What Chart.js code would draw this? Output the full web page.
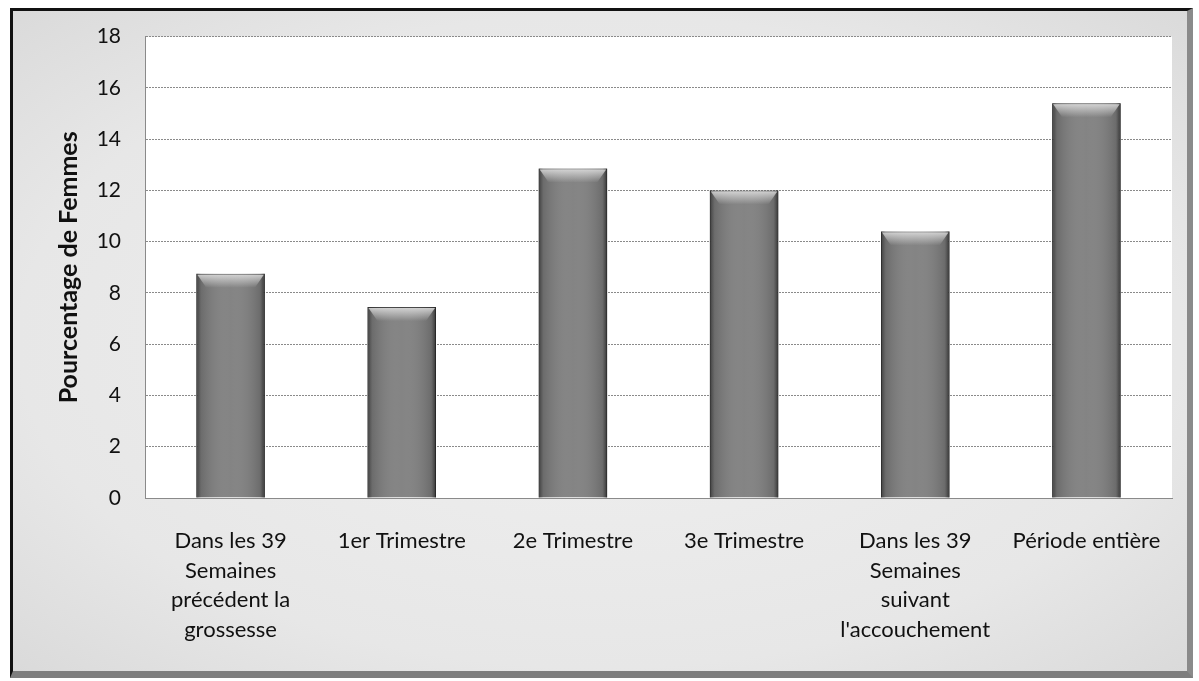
<!DOCTYPE html>
<html>
<head>
<meta charset="utf-8">
<script src="https://cdn.jsdelivr.net/npm/chart.js@4.4.1/dist/chart.umd.min.js"></script>
<style>
  html, body { margin: 0; padding: 0; background: #fff; }
  #frame {
    position: absolute; left: 10px; top: 8px; width: 1174px; height: 660px;
    border-top: 3px solid #111; border-left: 3px solid #111;
    border-right: 6px solid #8a8a8a; border-bottom: 7px solid #7e7e7e;
    background: radial-gradient(ellipse at center, #f0f0f0 0%, #e7e7e7 70%, #dadada 100%);
  }
  #wrap { position: absolute; left: 0; top: 0; width: 1199px; height: 681px; }
</style>
</head>
<body>
<div id="frame"></div>
<div id="wrap"><canvas id="myChart" width="1199" height="681"></canvas></div>
<script>
// values (pourcentage de femmes)

const periods = [
  ['Dans les 39', 'Semaines', 'précédent la', 'grossesse'],
  '1er Trimestre',
  '2e Trimestre',
  '3e Trimestre',
  ['Dans les 39', 'Semaines', 'suivant', "l'accouchement"],
  'Période entière'
];
const pourcentages = [8.75, 7.45, 12.85, 12.0, 10.4, 15.4];
const yTicks = [0, 2, 4, 6, 8, 10, 12, 14, 16, 18];

const font = "Lato, 'Open Sans', sans-serif";

// white plot area like the original
const plotBg = {
  id: 'plotBg',
  beforeDraw(chart) {
    const a = chart.chartArea, c = chart.ctx;
    c.save();
    c.fillStyle = '#ffffff';
    c.fillRect(a.left, a.top, a.right - a.left, a.bottom - a.top);
    c.restore();
  }
};

// shading on top of each bar (cylinder look)
const barShade = {
  id: 'barShade',
  afterDatasetsDraw(chart) {
    const c = chart.ctx;
    chart.getDatasetMeta(0).data.forEach(bar => {
      const l = bar.x - bar.width / 2, w = bar.width, t = bar.y, h = bar.base - bar.y;
      let g = c.createLinearGradient(l, 0, l + w, 0);
      g.addColorStop(0, 'rgba(40,40,40,0.75)');
      g.addColorStop(0.07, 'rgba(60,60,60,0.25)');
      g.addColorStop(0.5, 'rgba(255,255,255,0.06)');
      g.addColorStop(0.93, 'rgba(60,60,60,0.25)');
      g.addColorStop(1, 'rgba(30,30,30,0.8)');
      c.save();
      c.fillStyle = g;
      c.fillRect(l, t, w, h);
      let v = c.createLinearGradient(0, t, 0, t + 14);
      v.addColorStop(0, 'rgba(230,230,230,0.85)');
      v.addColorStop(1, 'rgba(230,230,230,0)');
      c.fillStyle = v;
      c.beginPath();
      c.moveTo(l + 1, t + 1);
      c.lineTo(l + w - 1, t + 1);
      c.lineTo(l + w - 10, t + 14);
      c.lineTo(l + 10, t + 14);
      c.closePath();
      c.fill();
      c.restore();
    });
  }
};

const ctx = document.getElementById('myChart');

new Chart(ctx, {
  type: 'bar',
  data: {
    labels: periods,
    datasets: [{
      label: 'Pourcentage de Femmes',
      data: pourcentages,
      backgroundColor: '#7c7c7c',
      borderColor: '#3a3a3a',
      borderWidth: 1,
      categoryPercentage: 1,
      barPercentage: 0.4
    }]
  },
  options: {
    responsive: false,
    animation: false,
    layout: { padding: { left: 50, right: 27, top: 30, bottom: 30 } },
    plugins: { legend: { display: false }, tooltip: { enabled: false } },
    scales: {
      x: {
        grid: { display: false, drawTicks: false },
        border: { color: '#8a8a8a', dash: [2, 1] },
        ticks: { color: '#111', padding: 28, maxRotation: 0, autoSkip: false,
                 font: { family: font, size: 22, lineHeight: 1.35 } },
        afterFit(scale) { scale.height = 153; }
      },
      y: {
        min: 0, max: 18,
        afterBuildTicks(scale) { scale.ticks = yTicks.map(v => ({ value: v })); },
        grid: { color: '#8a8a8a', drawTicks: false },
        border: { color: '#8a8a8a', dash: [2, 1] },
        ticks: { color: '#111', padding: 24, font: { family: font, size: 21 } },
        title: { display: true, text: 'Pourcentage de Femmes', color: '#111',
                 padding: { top: 4, bottom: 4 },
                 font: { family: font, size: 25, weight: 'bold' } },
        afterFit(scale) { scale.width = 95; }
      }
    }
  },
  plugins: [plotBg, barShade]
});
</script>
</body>
</html>
